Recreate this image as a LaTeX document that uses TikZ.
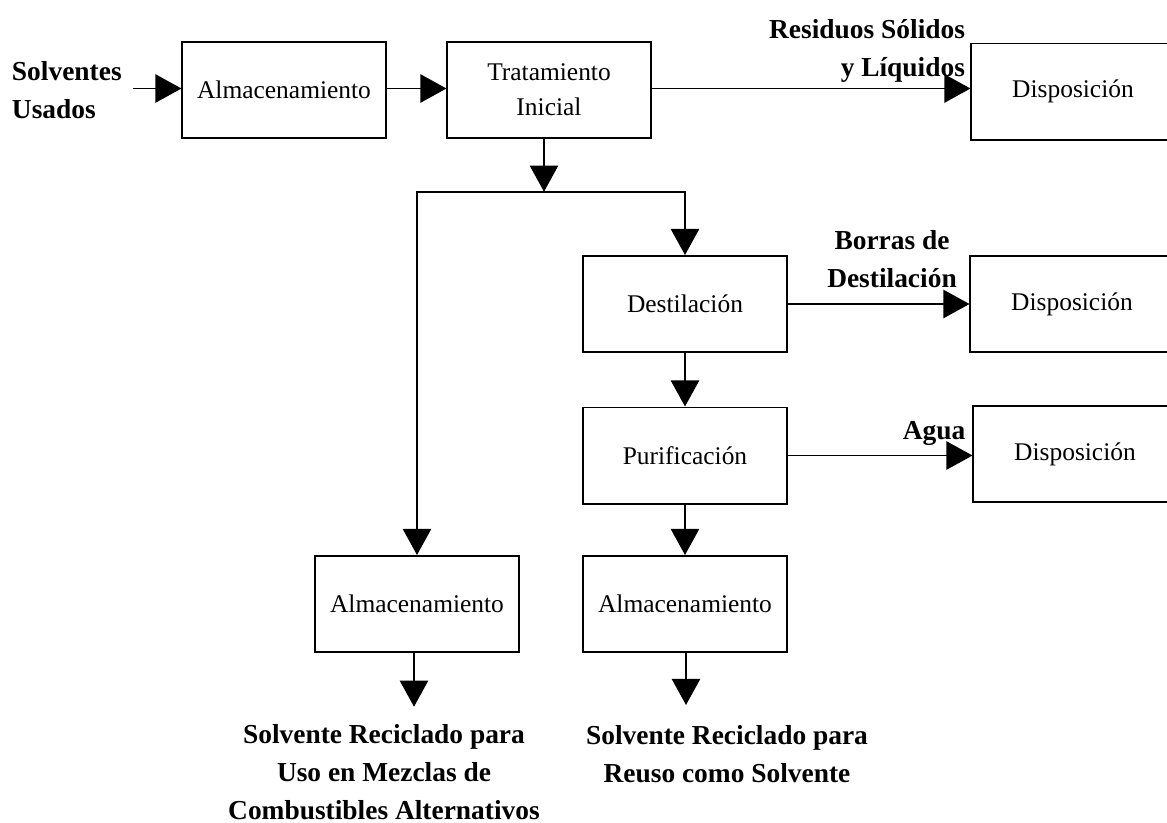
\documentclass[tikz,border=0pt]{standalone}
\usepackage{fontspec}
\setmainfont{Liberation Serif}
\usetikzlibrary{arrows.meta}

\begin{document}
\begin{tikzpicture}[x=0.025cm,y=-0.025cm,line width=1.4pt,
  box/.style={draw,minimum width=5.075cm,minimum height=2.4cm,inner sep=0pt,align=center,font=\fontsize{18.1}{25}\selectfont},
  lbl/.style={inner sep=0pt,font=\fontsize{19.5}{27}\selectfont\bfseries},
  flow/.style={-{Triangle[length=18.5pt,width=20pt]}}]
\clip (0,0) rectangle (1167,823);

\node[box] (alm1) at (284,90) {Almacenamiento};
\node[box] (trat) at (549,90) {Tratamiento\\Inicial};
\node[box] (disp1) at (1073,91.5) {Disposición};
\node[box] (dest) at (685,304) {Destilación};
\node[box] (disp2) at (1072,304) {Disposición};
\node[box] (puri) at (685,455.5) {Purificación};
\node[box] (disp3) at (1075,454) {Disposición};
\node[box] (almL) at (417,604) {Almacenamiento};
\node[box] (almR) at (685,604) {Almacenamiento};

\node[lbl,align=left,anchor=west] (usados) at (11,90) {Solventes\\Usados};
\node[lbl,align=right,anchor=east] (residuos) at (966,51) {Residuos Sólidos\\y Líquidos};
\node[lbl,align=center] (borras) at (892,259.5) {Borras de\\Destilación};
\node[lbl] (agua) at (934,433) {Agua};
\node[lbl,align=center] (combust) at (384,772) {Solvente Reciclado para\\Uso en Mezclas de\\Combustibles Alternativos};
\node[lbl,align=center] (reuso) at (727,754) {Solvente Reciclado para\\Reuso como Solvente};

\coordinate (src) at (133,88.5);
\coordinate (split) at (544,191.7);
\coordinate (outL) at (414,706.7);
\coordinate (outR) at (686,705);

\draw[flow] (src) -- (src -| alm1.west);
\draw[flow] (alm1.east |- src) -- (src -| trat.west);
\draw[flow] (trat.east |- src) -- (src -| disp1.west);
\draw[flow] (trat.south -| split) -- (split);
\draw[flow] (split) -| (dest.north);
\draw[flow] (split) -| (almL.north);
\draw[flow] (dest.east) -- (dest.east -| disp2.west);
\draw[flow] (dest) -- (puri);
\draw[flow] (puri.east) -- (puri.east -| disp3.west);
\draw[flow] (puri) -- (almR);
\draw[flow] (almL.south -| outL) -- (outL);
\draw[flow] (almR.south -| outR) -- (outR);
\end{tikzpicture}
\end{document}
